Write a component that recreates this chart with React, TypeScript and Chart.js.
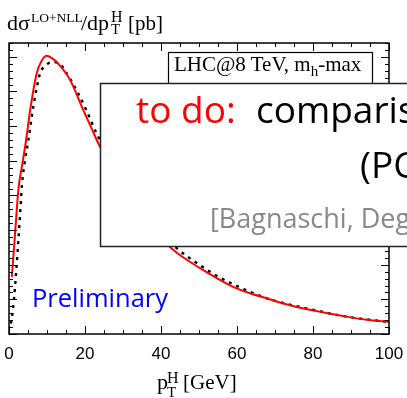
import React, { useEffect, useRef } from "react";
import { Chart, registerables } from "chart.js";

Chart.register(...registerables);

// LO+NLL (solid red)
const redPt = [0.75, 1.5, 2.5, 3.5, 4.5, 5.7, 7.3, 8.5, 9.9, 11.5, 13, 16, 19.6, 21.8, 23.7, 28, 32, 36, 40, 42.8, 46, 50.3, 53, 59, 63, 67.8, 72, 76.6, 81, 85.3, 90, 94.1, 100];
const redVal = [0.165, 0.275, 0.42, 0.49, 0.56, 0.656, 0.753, 0.787, 0.803, 0.795, 0.78, 0.735, 0.645, 0.592, 0.546, 0.46, 0.39, 0.33, 0.276, 0.247, 0.22, 0.19, 0.172, 0.136, 0.119, 0.103, 0.089, 0.076, 0.066, 0.057, 0.048, 0.041, 0.035];

// comparison curve (dotted black)
const dotPt = [0.5, 1.0, 1.6, 2.9, 3.4, 4.2, 5.1, 6.4, 8.2, 9.7, 11.2, 13.4, 15.2, 18.2, 20.4, 23.1, 28, 32, 36, 40, 45, 50.5, 55, 60.3, 64, 68.7, 73, 77.4, 82, 86.2, 90, 95, 100];
const dotVal = [0.03, 0.067, 0.139, 0.342, 0.43, 0.5, 0.56, 0.656, 0.753, 0.775, 0.785, 0.78, 0.752, 0.695, 0.645, 0.578, 0.48, 0.4, 0.34, 0.29, 0.24, 0.197, 0.166, 0.137, 0.119, 0.1, 0.087, 0.076, 0.065, 0.055, 0.048, 0.041, 0.035];

const xTickLabels = [0, 20, 40, 60, 80, 100];
const xMinorStep = 5;
const yMajorStep = 0.1;
const yMinorStep = 0.02;
const xMin = 0;
const xMax = 100;
const yMin = 0;
const yMax = 0.84;

const framePlugin = {
  id: "frameTicks",
  afterDatasetsDraw(chart: any) {
    const { ctx, chartArea: a, scales } = chart;
    const x = scales.x;
    const y = scales.y;
    ctx.save();
    ctx.strokeStyle = "#000";
    ctx.lineWidth = 1;
    ctx.beginPath();
    const nx = Math.round((xMax - xMin) / xMinorStep);
    for (let i = 0; i <= nx; i++) {
      const v = xMin + i * xMinorStep;
      const px = Math.round(x.getPixelForValue(v)) + 0.5;
      const len = i % 4 === 0 ? 8 : 4;
      ctx.moveTo(px, a.bottom);
      ctx.lineTo(px, a.bottom - len);
      ctx.moveTo(px, a.top);
      ctx.lineTo(px, a.top + len);
    }
    const ny = Math.floor((yMax - yMin) / yMinorStep + 1e-6);
    const per = Math.round(yMajorStep / yMinorStep);
    for (let i = 0; i <= ny; i++) {
      const v = yMin + i * yMinorStep;
      const py = Math.round(y.getPixelForValue(v)) + 0.5;
      const len = i % per === 0 ? 8 : 4;
      ctx.moveTo(a.left, py);
      ctx.lineTo(a.left + len, py);
      ctx.moveTo(a.right, py);
      ctx.lineTo(a.right - len, py);
    }
    ctx.stroke();
    ctx.lineWidth = 1.5;
    ctx.strokeRect(a.left, a.top, a.right - a.left, a.bottom - a.top);
    ctx.restore();
  },
};

export default function App() {
  const ref = useRef<HTMLCanvasElement | null>(null);
  useEffect(() => {
    if (!ref.current) return;
    const chart = new Chart(ref.current, {
      type: "line",
      data: {
        datasets: [
          {
            data: redPt.map((v, i) => ({ x: v, y: redVal[i] })),
            borderColor: "#ff0000",
            borderWidth: 2,
            pointRadius: 0,
            cubicInterpolationMode: "monotone",
            fill: false,
          },
          {
            data: dotPt.map((v, i) => ({ x: v, y: dotVal[i] })),
            borderColor: "#000000",
            borderWidth: 2.4,
            borderDash: [3, 5],
            pointRadius: 0,
            cubicInterpolationMode: "monotone",
            fill: false,
          },
        ],
      },
      options: {
        animation: false,
        responsive: false,
        devicePixelRatio: 1,
        layout: { padding: { left: 9, top: 43, right: 18, bottom: 23.6 } },
        plugins: { legend: { display: false }, tooltip: { enabled: false } },
        scales: {
          x: {
            type: "linear",
            min: xMin,
            max: xMax,
            afterBuildTicks: (s: any) => {
              s.ticks = xTickLabels.map((v) => ({ value: v }));
            },
            afterFit: (s: any) => {
              s.paddingLeft = 0;
              s.paddingRight = 0;
            },
            grid: { display: false, drawTicks: false },
            border: { display: false },
            ticks: {
              color: "#000",
              padding: 10,
              maxRotation: 0,
              font: { family: "'Liberation Sans', Arial, sans-serif", size: 17 },
            },
          },
          y: {
            type: "linear",
            display: false,
            min: yMin,
            max: yMax,
          },
        },
      },
      plugins: [framePlugin],
    });
    return () => chart.destroy();
  }, []);

  const serif = "'Liberation Serif', 'Times New Roman', serif";
  const sans = "'Open Sans', sans-serif";
  return (
    <div style={{ position: "fixed", left: 0, top: 0, width: 407, height: 398, overflow: "hidden", background: "#fff" }}>
      <canvas ref={ref} width={407} height={398} style={{ position: "absolute", left: 0, top: 0, width: 407, height: 398 }} />
      <svg width={407} height={398} style={{ position: "absolute", left: 0, top: 0, pointerEvents: "none" }}>
        {/* y-axis title */}
        <text x={7} y={30} fontFamily={serif} fontSize={22} fill="#000">dσ</text>
        <text x={31} y={21.5} fontFamily={serif} fontSize={13.5} fill="#000">LO+NLL</text>
        <text x={81} y={30} fontFamily={serif} fontSize={22} fill="#000">/dp</text>
        <text x={111} y={22} fontFamily={serif} fontSize={16} fill="#000">H</text>
        <text x={111} y={33.5} fontFamily={serif} fontSize={15} fill="#000">T</text>
        <text x={128} y={30} fontFamily={serif} fontSize={21} fill="#000">[pb]</text>

        {/* legend box */}
        <rect x={168.5} y={52.5} width={204} height={60} fill="#fff" stroke="#000" strokeWidth={1.2} />
        <text x={174} y={71} fontFamily={serif} fontSize={21} fill="#000">
          LHC@8 TeV, m<tspan dy={5} fontSize={15}>h</tspan><tspan dy={-5}>-max</tspan>
        </text>

        {/* overlay note */}
        <rect x={100.5} y={83.5} width={340} height={163} fill="#fff" stroke="#222" strokeWidth={1.5} />
        <text x={136} y={123} fontFamily={sans} fontSize={37} fill="#ff0000">to do:</text>
        <text x={256} y={123} fontFamily={sans} fontSize={37} fill="#000">comparison with</text>
        <text x={360} y={178} fontFamily={sans} fontSize={37} fill="#000">(POWHEG)</text>
        <text x={210} y={228} fontFamily={sans} fontSize={27} fill="#888">[Bagnaschi, Degrassi, Slavich, Vicini]</text>

        <text x={32} y={307} fontFamily={sans} fontSize={25.5} fill="#0000ff">Preliminary</text>

        {/* x-axis title */}
        <text x={157} y={389} fontFamily={serif} fontSize={22} fill="#000">p</text>
        <text x={167} y={383} fontFamily={serif} fontSize={16} fill="#000">H</text>
        <text x={167} y={397} fontFamily={serif} fontSize={15} fill="#000">T</text>
        <text x={183} y={389} fontFamily={serif} fontSize={21} fill="#000">[GeV]</text>
      </svg>
    </div>
  );
}
